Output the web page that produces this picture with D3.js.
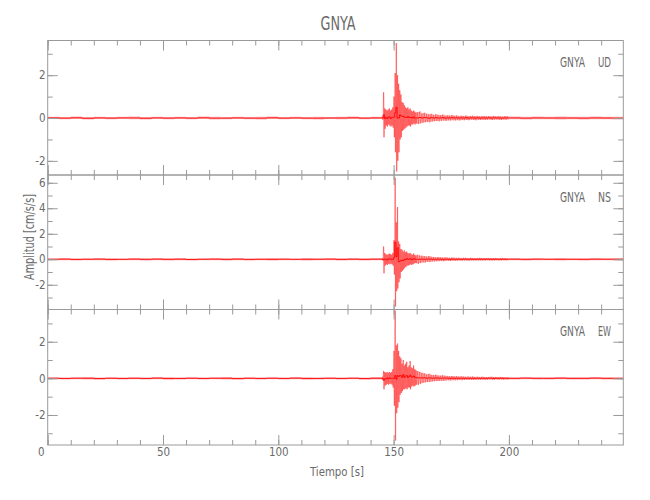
<!DOCTYPE html>
<html><head><meta charset="utf-8">
<script src="https://cdn.jsdelivr.net/npm/d3@7"></script>
<style>body{margin:0;background:#fff}svg{display:block}</style>
</head><body><svg id="c" width="650" height="500"></svg>
<script>
const station = "GNYA";
const components = ["UD", "NS", "EW"];
const titleText = "GNYA";
const xTitle = "Tiempo [s]";
const yTitle = "Amplitud [cm/s/s]";
const xMajorTicks = [0, 50, 100, 150, 200];
const xMinorTicks = d3.range(0, 250, 10);
const timeMax = 249.6;
// bins: [start, end, step]
const segments = [[0, 145, 5], [145, 160, 0.5], [160, 200, 1], [200, 250, 5]];
const yDomainUD = [-2.66, 3.62];
const yDomainNS = [-3.94, 6.61];
const yDomainEW = [-3.64, 3.76];
const yMajorUD = [-2, 0, 2], yMinorUD = [-2, -1, 0, 1, 2, 3];
const yMajorNS = [-2, 0, 2, 4, 6], yMinorNS = [-3, -2, -1, 0, 1, 2, 3, 4, 5, 6];
const yMajorEW = [-2, 0, 2], yMinorEW = [-3, -2, -1, 0, 1, 2, 3];

// envelope (max/min per bin) read from the record
const udMax = [0.06,0.05,0.07,0.05,0.06,0.05,0.06,0.07,0.05,0.06,0.05,0.06,0.05,0.07,0.06,0.05,0.06,0.05,0.06,0.07,0.05,0.06,0.05,0.06,0.05,0.06,0.07,0.05,0.06,
 0.08,1.2,0.45,0.4,0.35,0.4,0.45,0.35,0.4,0.5,1.0,2.1,3.5,2.0,1.6,1.3,1.1,0.75,0.7,0.6,0.5,0.45,0.5,0.4,0.45,0.35,0.3,0.35,0.3,0.25,
 0.28,0.3,0.22,0.25,0.2,0.18,0.2,0.15,0.18,0.15,0.14,0.16,0.12,0.13,0.12,0.14,0.11,0.12,0.1,0.11,0.1,0.12,0.09,0.1,0.11,0.09,0.1,0.08,0.09,0.1,0.08,0.09,0.08,0.1,0.08,0.09,0.08,0.07,0.09,0.08,
 0.07,0.06,0.07,0.06,0.07,0.06,0.06,0.07,0.06,0.06];
const udMin = [-0.05,-0.06,-0.05,-0.07,-0.05,-0.06,-0.05,-0.06,-0.07,-0.05,-0.06,-0.05,-0.06,-0.05,-0.07,-0.06,-0.05,-0.06,-0.07,-0.05,-0.06,-0.05,-0.06,-0.07,-0.05,-0.06,-0.05,-0.06,-0.05,
 -0.08,-0.9,-0.5,-0.35,-0.4,-0.3,-0.35,-0.4,-0.35,-0.45,-0.9,-1.6,-2.5,-2.0,-1.6,-1.0,-0.9,-0.6,-0.55,-0.5,-0.45,-0.4,-0.35,-0.35,-0.4,-0.3,-0.3,-0.25,-0.3,-0.25,
 -0.28,-0.25,-0.22,-0.2,-0.18,-0.2,-0.16,-0.15,-0.14,-0.15,-0.13,-0.12,-0.13,-0.11,-0.12,-0.1,-0.11,-0.1,-0.11,-0.09,-0.1,-0.09,-0.1,-0.08,-0.09,-0.1,-0.08,-0.09,-0.08,-0.09,-0.08,-0.07,-0.09,-0.08,-0.07,-0.08,-0.09,-0.07,-0.08,-0.07,
 -0.06,-0.07,-0.06,-0.06,-0.07,-0.06,-0.07,-0.06,-0.06,-0.07];
const nsMax = [0.08,0.09,0.07,0.08,0.1,0.08,0.07,0.09,0.08,0.1,0.08,0.09,0.07,0.08,0.09,0.08,0.1,0.07,0.08,0.09,0.08,0.07,0.09,0.08,0.1,0.08,0.09,0.08,0.09,
 0.1,1.0,0.5,0.4,0.35,0.4,0.45,0.4,0.35,0.5,1.5,6.4,2.9,4.1,1.4,1.2,0.8,0.75,0.6,0.7,0.55,0.6,0.5,0.45,0.5,0.4,0.35,0.45,0.35,0.3,
 0.35,0.3,0.28,0.25,0.22,0.25,0.2,0.18,0.16,0.18,0.15,0.14,0.15,0.13,0.12,0.14,0.12,0.11,0.12,0.1,0.12,0.11,0.1,0.11,0.1,0.09,0.1,0.11,0.09,0.1,0.1,0.09,0.1,0.09,0.1,0.08,0.09,0.1,0.09,0.08,
 0.09,0.08,0.09,0.08,0.09,0.08,0.08,0.09,0.08,0.09];
const nsMin = [-0.08,-0.07,-0.09,-0.08,-0.08,-0.1,-0.08,-0.07,-0.09,-0.08,-0.09,-0.08,-0.1,-0.08,-0.07,-0.09,-0.08,-0.09,-0.08,-0.1,-0.07,-0.08,-0.09,-0.08,-0.08,-0.1,-0.08,-0.09,-0.08,
 -0.1,-1.1,-0.5,-0.4,-0.45,-0.35,-0.4,-0.35,-0.4,-0.5,-1.2,-3.7,-2.5,-2.3,-1.8,-1.5,-1.0,-0.9,-0.8,-0.7,-0.6,-0.5,-0.5,-0.45,-0.4,-0.45,-0.4,-0.35,-0.3,-0.3,
 -0.35,-0.3,-0.25,-0.25,-0.2,-0.22,-0.18,-0.17,-0.16,-0.15,-0.14,-0.15,-0.13,-0.12,-0.13,-0.11,-0.12,-0.11,-0.1,-0.11,-0.1,-0.1,-0.11,-0.09,-0.1,-0.1,-0.09,-0.1,-0.09,-0.1,-0.08,-0.09,-0.1,-0.09,-0.08,-0.09,-0.09,-0.08,-0.09,-0.08,
 -0.08,-0.09,-0.08,-0.08,-0.09,-0.08,-0.09,-0.08,-0.08,-0.09];
const ewMax = [0.06,0.05,0.06,0.07,0.05,0.06,0.05,0.06,0.05,0.07,0.06,0.05,0.06,0.05,0.06,0.07,0.05,0.06,0.05,0.06,0.05,0.07,0.06,0.05,0.06,0.05,0.06,0.05,0.07,
 0.1,0.4,0.35,0.3,0.35,0.3,0.35,0.3,0.35,0.5,1.5,3.7,1.8,1.9,1.5,1.2,1.1,0.8,1.0,0.7,0.8,0.9,0.6,0.7,0.95,0.6,0.55,0.7,0.5,0.45,
 0.4,0.35,0.3,0.28,0.22,0.25,0.2,0.18,0.2,0.16,0.15,0.17,0.14,0.13,0.12,0.13,0.11,0.12,0.1,0.11,0.1,0.09,0.1,0.09,0.1,0.08,0.09,0.08,0.09,0.08,0.07,0.08,0.09,0.07,0.08,0.07,0.08,0.07,0.06,0.07,
 0.06,0.07,0.06,0.06,0.07,0.06,0.06,0.07,0.06,0.06];
const ewMin = [-0.05,-0.06,-0.05,-0.06,-0.07,-0.05,-0.06,-0.05,-0.06,-0.05,-0.07,-0.06,-0.05,-0.06,-0.05,-0.06,-0.07,-0.05,-0.06,-0.05,-0.06,-0.05,-0.07,-0.06,-0.05,-0.06,-0.05,-0.07,-0.06,
 -0.1,-0.6,-0.4,-0.35,-0.3,-0.35,-0.3,-0.3,-0.35,-0.5,-1.5,-3.4,-1.9,-1.6,-1.3,-0.9,-0.8,-0.7,-0.6,-0.6,-0.55,-0.6,-0.5,-0.5,-0.6,-0.45,-0.4,-0.45,-0.4,-0.35,
 -0.35,-0.3,-0.25,-0.22,-0.2,-0.2,-0.17,-0.16,-0.15,-0.14,-0.13,-0.14,-0.12,-0.11,-0.12,-0.1,-0.11,-0.1,-0.09,-0.1,-0.09,-0.08,-0.09,-0.08,-0.09,-0.08,-0.07,-0.08,-0.07,-0.08,-0.07,-0.06,-0.07,-0.08,-0.06,-0.07,-0.06,-0.07,-0.06,-0.07,
 -0.06,-0.05,-0.06,-0.06,-0.05,-0.06,-0.06,-0.05,-0.06,-0.06];

const svg = d3.select("#c");
const FONT = "'Liberation Sans Narrow','DejaVu Sans Condensed','Liberation Sans',sans-serif";
const TXT = "#6a6a6a", AX = "#9a9a9a", TRACE = "#ff0000";
const left = 47.7, right = 623.3;
const panelTops = [40.5, 175, 309.5], panelBots = [175, 309.5, 445];

const x = d3.scaleLinear().domain([0, timeMax]).range([left, right]);

const bins = segments.flatMap(([a, b, s]) => d3.range(a, b, s).map(t => ({t0: t, t1: Math.min(t + s, timeMax)})));

const panelData = [
  {comp: components[0], max: udMax, min: udMin, dom: yDomainUD, maj: yMajorUD, mnr: yMinorUD},
  {comp: components[1], max: nsMax, min: nsMin, dom: yDomainNS, maj: yMajorNS, mnr: yMinorNS},
  {comp: components[2], max: ewMax, min: ewMin, dom: yDomainEW, maj: yMajorEW, mnr: yMinorEW}
];

panelData.forEach((p, i) => {
  const top = panelTops[i], bot = panelBots[i];
  const y = d3.scaleLinear().domain(p.dom).range([bot, top]);
  const g = svg.append("g");
  const cid = "clip" + i;
  svg.append("clipPath").attr("id", cid).append("rect")
    .attr("x", left).attr("y", top).attr("width", right - left).attr("height", bot - top);

  // envelope band over the whole record (step-shaped per bin)
  const env = bins.flatMap((b, k) => [{t: b.t0, hi: p.max[k], lo: p.min[k]}, {t: b.t1, hi: p.max[k], lo: p.min[k]}]);
  const area = d3.area().x(d => x(d.t)).y0(d => y(d.lo)).y1(d => y(d.hi));
  g.append("path").attr("clip-path", `url(#${cid})`).attr("d", area(env))
    .attr("fill", TRACE).attr("fill-opacity", 0.3);

  // mid trace
  const mid = d3.line().x(d => x(d.t)).y(d => y((d.hi + d.lo) / 2));
  g.append("path").attr("clip-path", `url(#${cid})`).attr("d", mid(env))
    .attr("fill", "none").attr("stroke", TRACE).attr("stroke-width", 1).attr("stroke-opacity", 0.9);

  // oscillating trace for fine (event) bins
  const pts = [];
  bins.forEach((b, k) => {
    const w = b.t1 - b.t0;
    if (w > 1) return;
    pts.push([b.t0 + 0.25 * w, p.max[k]]);
    pts.push([b.t0 + 0.75 * w, p.min[k]]);
  });
  const line = d3.line().x(d => x(d[0])).y(d => y(d[1]));
  g.append("path").attr("clip-path", `url(#${cid})`).attr("d", line(pts))
    .attr("fill", "none").attr("stroke", TRACE).attr("stroke-width", 0.45).attr("stroke-opacity", 0.7);

  // axes (inward ticks on all four sides)
  const styleAxis = sel => { sel.select(".domain").remove(); sel.selectAll("line").attr("stroke", AX); sel.selectAll("text").attr("fill", TXT).attr("font-family", FONT).attr("font-size", 11.5); };
  g.append("g").attr("transform", `translate(0,${top})`).call(d3.axisTop(x).tickValues(xMinorTicks).tickSize(-5).tickFormat("")).call(styleAxis);
  g.append("g").attr("transform", `translate(0,${top})`).call(d3.axisTop(x).tickValues(xMajorTicks).tickSize(-10).tickFormat("")).call(styleAxis);
  g.append("g").attr("transform", `translate(0,${bot})`).call(d3.axisBottom(x).tickValues(xMinorTicks).tickSize(-5).tickFormat("")).call(styleAxis);
  const xb = g.append("g").attr("transform", `translate(0,${bot})`)
    .call(d3.axisBottom(x).tickValues(xMajorTicks).tickSize(-10).tickPadding(3).tickFormat(i === 2 ? d3.format("d") : ""))
    .call(styleAxis);
  xb.selectAll("text").filter(d => d === 0).attr("dx", -7);

  g.append("g").attr("transform", `translate(${left},0)`).call(d3.axisLeft(y).tickValues(p.mnr).tickSize(-5).tickFormat("")).call(styleAxis);
  g.append("g").attr("transform", `translate(${left},0)`)
    .call(d3.axisLeft(y).tickValues(p.maj).tickSize(-10).tickPadding(2).tickFormat(d => String(d))).call(styleAxis);
  g.append("g").attr("transform", `translate(${right},0)`).call(d3.axisRight(y).tickValues(p.mnr).tickSize(-5).tickFormat("")).call(styleAxis);
  g.append("g").attr("transform", `translate(${right},0)`).call(d3.axisRight(y).tickValues(p.maj).tickSize(-10).tickFormat("")).call(styleAxis);

  g.append("rect").attr("x", left).attr("y", top).attr("width", right - left).attr("height", bot - top)
    .attr("fill", "none").attr("stroke", AX).attr("stroke-width", 1);

  // station label
  g.append("text").attr("x", 560).attr("y", top + 26.5).text(station)
    .attr("font-family", FONT).attr("font-size", 14).attr("fill", TXT)
    .attr("textLength", 25).attr("lengthAdjust", "spacingAndGlyphs");
  g.append("text").attr("x", 598).attr("y", top + 26.5).text(p.comp)
    .attr("font-family", FONT).attr("font-size", 14).attr("fill", TXT)
    .attr("textLength", 13).attr("lengthAdjust", "spacingAndGlyphs");
});

svg.append("text").attr("x", 338).attr("y", 30).attr("text-anchor", "middle").text(titleText)
  .attr("font-family", FONT).attr("font-size", 19.5).attr("fill", TXT)
  .attr("textLength", 35).attr("lengthAdjust", "spacingAndGlyphs");
svg.append("text").attr("x", 337).attr("y", 476).attr("text-anchor", "middle").text(xTitle)
  .attr("font-family", FONT).attr("font-size", 13).attr("fill", TXT)
  .attr("textLength", 54).attr("lengthAdjust", "spacingAndGlyphs");
svg.append("text").attr("transform", "translate(34,237) rotate(-90)").attr("text-anchor", "middle").text(yTitle)
  .attr("font-family", FONT).attr("font-size", 13.5).attr("fill", TXT)
  .attr("textLength", 86).attr("lengthAdjust", "spacingAndGlyphs");
</script></body></html>
